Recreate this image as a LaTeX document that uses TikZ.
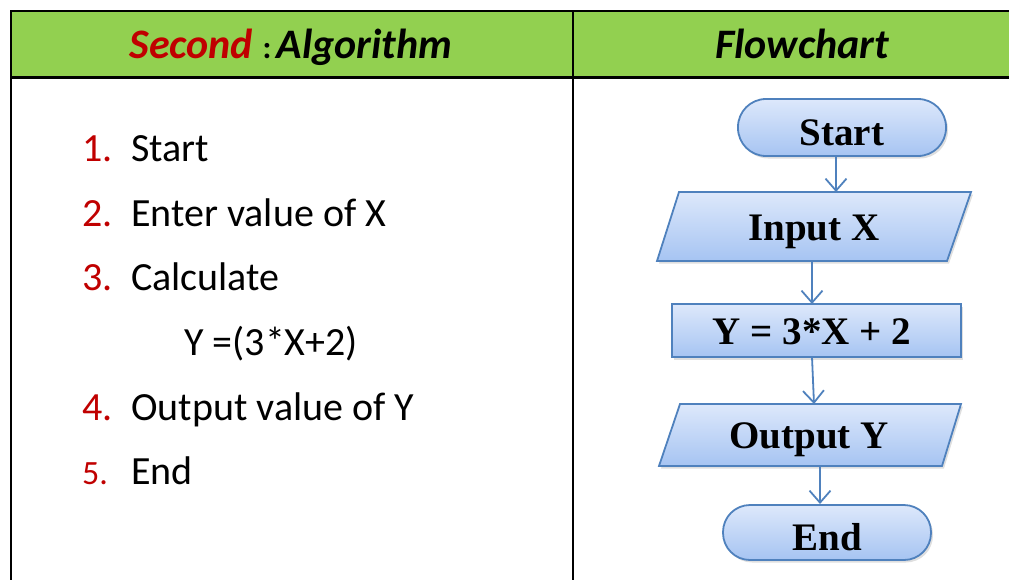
\documentclass[tikz,border=0pt]{standalone}
\usepackage{fontspec}
\setmainfont{Carlito}
\newfontfamily\fcfont{Liberation Serif}
\usetikzlibrary{arrows.meta,shadows}
\definecolor{hdrgreen}{HTML}{92D050}
\definecolor{darkred}{HTML}{C00000}
\definecolor{fcborder}{HTML}{4F81BD}
\definecolor{fctop}{HTML}{DDE8FB}
\definecolor{fcbot}{HTML}{A6C4F2}
\tikzset{
  fcshape/.style={draw=fcborder, line width=1.8pt, top color=fctop, bottom color=fcbot,
    drop shadow={opacity=0.25, shadow xshift=2pt, shadow yshift=-2.5pt}},
  fctext/.style={font=\fcfont\bfseries\fontsize{39}{41}\selectfont, inner sep=0pt, text=black, anchor=base},
  fcarrow/.style={draw=fcborder, line width=1.8pt, -{Straight Barb[length=12pt, width=21pt, line width=1.8pt]}},
  tbl/.style={line width=2.2pt, draw=black},
  itemtxt/.style={font=\fontsize{40}{44}\selectfont, anchor=base west, inner sep=0pt},
  itemnum/.style={font=\fontsize{40}{44}\selectfont, anchor=base west, inner sep=0pt, text=darkred},
  hdr/.style={font=\bfseries\itshape\fontsize{42}{46}\selectfont, inner sep=0pt, anchor=base},
}
\begin{document}
\begin{tikzpicture}[x=1pt,y=-1pt]
\useasboundingbox (0,0) rectangle (1009,579);
% table
\fill[hdrgreen] (11,11) rectangle (1012,77.5);
\draw[tbl] (1012,11) -- (11,11) -- (11,582);
\draw[tbl] (11,77.5) -- (1012,77.5);
\draw[tbl] (573,11) -- (573,582);
% header
\node[hdr] (h1) at (291,58)
  {\textcolor{darkred}{Second} \fontsize{32}{34}\selectfont\upshape:\,\fontsize{42}{46}\selectfont\itshape Algorithm};
\node[hdr] (h2) at (802,58) {Flowchart};
% algorithm list
\node[itemnum] (n1) at (82,161) {1.};
\node[itemtxt] (t1) at (131,161) {Start};
\node[itemnum] (n2) at (82,226) {2.};
\node[itemtxt] (t2) at (131,226) {Enter value of X};
\node[itemnum] (n3) at (82,290) {3.};
\node[itemtxt] (t3) at (131,290) {Calculate};
\node[itemtxt] (t3b) at (184,355) {Y =(3*X+2)};
\node[itemnum] (n4) at (82,420) {4.};
\node[itemtxt] (t4) at (131,420) {Output value of Y};
\node[itemnum, font=\fontsize{34}{38}\selectfont] (n5) at (82,484) {5.};
\node[itemtxt] (t5) at (131,484) {End};
% flowchart shapes
\path[fcshape, rounded corners=28pt] (738,99) rectangle (946,156);
\node[fctext] (start) at (842,145) {Start};
\coordinate (startS) at (836,156);
\path[fcshape] (679,192) -- (971,192) -- (947,261) -- (657,261) -- cycle;
\node[fctext] (inp) at (814,240) {Input X};
\coordinate (inpN) at (836,192);
\coordinate (inpS) at (812,261);
\path[fcshape] (672,304) rectangle (961,357);
\node[fctext] (proc) at (812,344) {Y = 3*X + 2};
\coordinate (procN) at (812,304);
\coordinate (procS) at (812,357);
\path[fcshape] (680,404) -- (961,404) -- (942,466) -- (659,466) -- cycle;
\node[fctext] (outp) at (809,448) {Output Y};
\coordinate (outpN) at (814,404);
\coordinate (outpS) at (820,467);
\path[fcshape, rounded corners=27pt] (723,505) rectangle (931,560);
\node[fctext] (endn) at (827,550) {End};
\coordinate (endN) at (820,504);
% connectors
\draw[fcarrow] (startS) -- (inpN);
\draw[fcarrow] (inpS) -- (procN);
\draw[fcarrow] (procS) -- (outpN);
\draw[fcarrow] (outpS) -- (endN);
\end{tikzpicture}
\end{document}
